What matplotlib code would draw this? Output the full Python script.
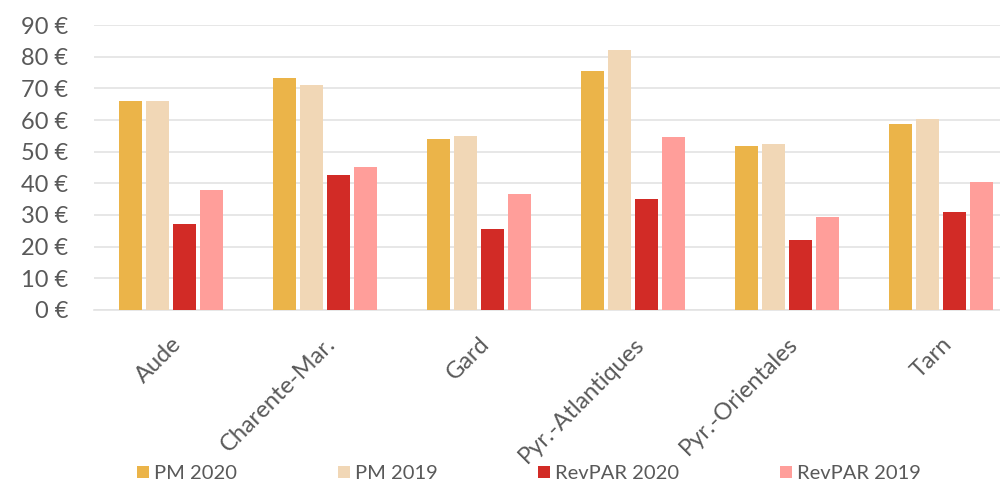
import numpy as np
import matplotlib
matplotlib.use("Agg")
import matplotlib.pyplot as plt
from matplotlib.ticker import FuncFormatter

plt.rcParams['font.family'] = ['Lato', 'DejaVu Sans']

departements = ["Aude", "Charente-Mar.", "Gard", "Pyr.-Atlantiques", "Pyr.-Orientales", "Tarn"]
pm_2020 = [66.0, 73.3, 54.0, 75.5, 51.8, 58.6]
pm_2019 = [66.0, 71.1, 55.0, 82.2, 52.4, 60.3]
revpar_2020 = [27.2, 42.5, 25.7, 35.0, 22.1, 30.9]
revpar_2019 = [37.9, 45.2, 36.6, 54.5, 29.4, 40.4]

series = [("PM 2020", pm_2020, "#EBB449"),
          ("PM 2019", pm_2019, "#F1D7B6"),
          ("RevPAR 2020", revpar_2020, "#D22B26"),
          ("RevPAR 2019", revpar_2019, "#FF9E9A")]

grey = "#595959"
fig = plt.figure(figsize=(10, 4.82), dpi=100)
ax = fig.add_axes([0.094, 0.357, 0.924, 0.591])

x = np.arange(len(departements))
offsets = [-0.2625, -0.0875, 0.0875, 0.2625]
for (name, vals, col), off in zip(series, offsets):
    ax.bar(x + off, vals, width=0.145, color=col, label=name, zorder=3)

ax.set_xlim(-0.5, len(departements) - 0.5)
ax.set_ylim(0, 90)
ax.set_yticks(range(0, 91, 10))
ax.yaxis.set_major_formatter(FuncFormatter(lambda v, p: f"{int(v)} €"))
ax.grid(axis="y", color="#e3e3e3", linewidth=1.2, zorder=0)
for s in ["top", "right", "left"]:
    ax.spines[s].set_visible(False)
ax.spines["bottom"].set_color("#e3e3e3")
ax.spines["bottom"].set_linewidth(1.2)
ax.tick_params(axis="both", length=0, labelsize=17, labelcolor=grey)
ax.tick_params(axis="y", pad=18.5)
ax.set_xticks(x)
ax.set_xticklabels(departements, rotation=45, ha="right", rotation_mode="anchor")
ax.tick_params(axis="x", pad=17)

fig.legend(loc="lower left", bbox_to_anchor=(0.137, 0.0), ncol=4, frameon=False,
           fontsize=14.5, labelcolor=grey, handlelength=0.6, handleheight=0.6,
           handletextpad=0.25, columnspacing=5.0, borderpad=0, borderaxespad=0)

fig.savefig("out.png", dpi=100)
